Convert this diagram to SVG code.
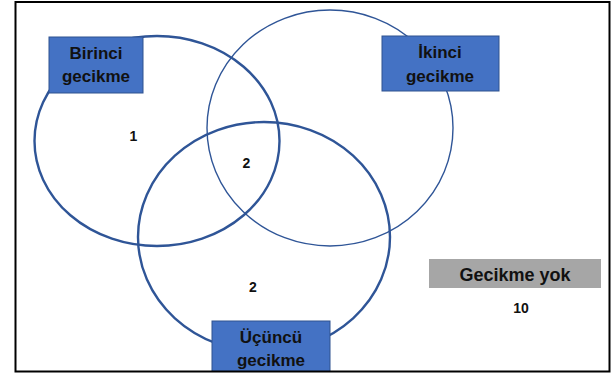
<svg xmlns="http://www.w3.org/2000/svg" width="612" height="373" viewBox="0 0 612 373">
<style>
.c{fill:none;stroke:#2F5597}
.box{fill:#4472C4;stroke:#2F528F;stroke-width:1}
.t{font-family:"Liberation Sans",Arial,sans-serif;font-weight:bold;fill:#111;text-anchor:middle}
.bt{font-size:17px}
.n{font-size:14px}
</style>
<rect x="0" y="0" width="612" height="373" fill="#fff"/>
<g id="circles">
<ellipse id="set-birinci" class="c" cx="157" cy="141" rx="122.5" ry="105" stroke-width="2.4"/>
<ellipse id="set-ikinci" class="c" cx="330" cy="128" rx="123" ry="118" stroke-width="1.4"/>
<ellipse id="set-ucuncu" class="c" cx="264" cy="237" rx="126" ry="115" stroke-width="2.4"/>
</g>
<g id="birinci">
<rect class="box" x="49" y="37" width="94" height="56"/>
<text class="t bt" x="96" y="59">Birinci</text>
<text class="t bt" x="96" y="82">gecikme</text>
</g>
<g id="ikinci">
<rect class="box" x="382" y="36" width="117" height="55"/>
<text class="t bt" x="440" y="58">İkinci</text>
<text class="t bt" x="440" y="82">gecikme</text>
</g>
<g id="ucuncu">
<rect class="box" x="212" y="321" width="118" height="55"/>
<text class="t bt" x="271" y="343">Üçüncü</text>
<text class="t bt" x="271" y="366">gecikme</text>
</g>
<g id="yok">
<rect x="429" y="259" width="172" height="29" fill="#A6A6A6"/>
<text class="t" x="515" y="281" font-size="18">Gecikme yok</text>
<text class="t n" x="521" y="313">10</text>
</g>
<g id="counts">
<text class="t n" x="133.5" y="141">1</text>
<text class="t n" x="246.5" y="168">2</text>
<text class="t n" x="253" y="292">2</text>
</g>
<rect x="0" y="372" width="612" height="1" fill="#fff"/>
<rect x="15.5" y="2" width="594" height="369.5" fill="none" stroke="#000" stroke-width="2"/>
</svg>
